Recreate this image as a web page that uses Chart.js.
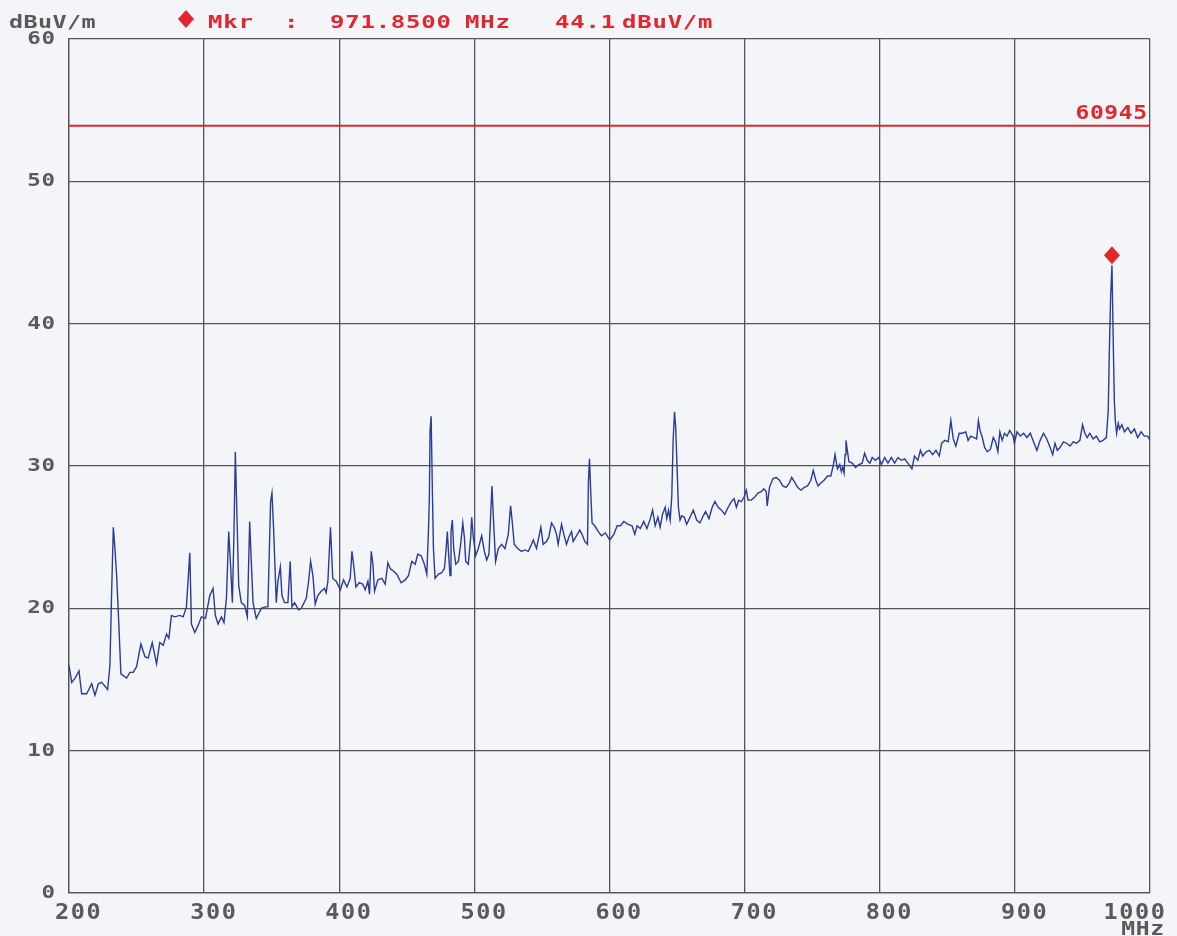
<!DOCTYPE html>
<html>
<head>
<meta charset="utf-8">
<script src="https://cdn.jsdelivr.net/npm/chart.js@4/dist/chart.umd.min.js"></script>
<style>
  html, body { margin: 0; padding: 0; background: #f3f5f9; }
  #wrap { width: 1177px; height: 936px; }
</style>
</head>
<body>
<div id="wrap"><canvas id="c" width="1177" height="936"></canvas></div>
<script>
// ---- data ----
const freqs = [
  200.0,202.0,204.5,207.4,209.4,213.1,216.8,219.2,221.7,224.2,228.6,230.3,231.5,232.8,234.0,235.2,236.5,238.4,
  242.6,245.1,247.5,250.0,253.2,256.2,258.6,261.6,264.8,267.2,269.7,272.2,273.9,275.8,278.3,282.0,284.5,286.9,
  289.4,290.6,293.1,295.5,298.0,301.0,304.2,306.6,308.3,310.3,312.8,314.7,316.5,318.2,319.7,320.9,322.1,323.1,
  324.4,325.6,327.5,330.0,332.0,333.7,334.9,336.2,338.6,342.3,345.3,347.2,349.2,350.2,351.4,353.4,354.6,356.4,
  357.6,359.5,362.0,363.7,365.0,366.9,369.9,371.9,375.6,377.3,378.8,380.5,382.2,384.2,386.6,389.1,390.3,391.6,
  393.5,395.2,397.7,
  400.8,403.2,405.7,408.1,409.4,410.6,412.3,414.8,417.3,419.2,421.2,422.4,423.7,424.9,426.1,428.6,431.5,434.0,
  436.0,437.7,440.2,442.6,445.8,448.8,451.2,453.7,456.2,458.1,460.6,463.0,464.8,466.0,466.7,467.2,468.0,469.0,
  469.7,470.9,473.4,475.8,477.8,478.8,480.0,480.8,482.0,482.7,483.7,484.7,486.2,488.2,490.1,491.4,492.6,493.6,
  495.5,497.3,498.0,499.2,501.0,502.9,505.4,507.4,509.1,510.8,512.3,513.0,514.3,515.7,517.7,520.2,522.6,525.1,
  526.8,528.0,529.5,532.0,534.9,537.4,539.9,542.3,543.6,546.0,547.7,549.2,550.9,553.4,555.1,557.1,559.1,560.8,
  562.0,564.5,566.2,568.2,569.9,571.9,573.1,575.6,578.0,579.7,581.7,583.7,584.4,585.2,586.1,587.1,589.1,591.6,
  594.0,597.0,
  600.2,603.2,605.7,608.1,610.6,613.8,616.7,618.7,620.4,622.8,625.3,627.7,630.2,631.9,633.8,635.8,637.5,639.2,
  641.2,642.4,643.7,644.9,646.1,647.1,648.1,649.0,650.0,651.0,652.2,653.5,655.4,657.1,659.6,662.0,664.5,666.9,
  669.4,671.1,673.6,676.0,678.0,680.4,682.9,685.3,687.8,690.2,692.2,693.9,695.6,697.6,699.5,701.3,702.5,704.9,
  707.4,709.8,712.3,714.2,716.0,716.7,718.4,720.9,723.3,725.8,728.2,730.7,733.1,734.8,736.8,739.2,741.7,744.1,
  746.6,749.0,750.8,752.7,754.4,756.4,758.8,761.3,763.8,765.7,766.9,768.7,770.4,771.6,772.6,773.6,774.3,775.0,
  776.0,777.2,779.7,782.1,784.6,787.0,788.8,790.7,792.7,794.4,796.8,799.3,
  801.2,803.7,806.1,808.6,811.0,813.5,815.9,818.4,820.8,823.8,825.7,828.2,830.1,831.8,834.3,836.7,839.2,841.6,
  844.1,845.8,848.2,850.7,852.6,854.4,856.3,858.8,861.2,863.7,865.4,867.3,869.8,871.7,873.0,874.2,875.9,877.6,
  879.6,882.0,884.0,885.7,887.4,888.9,890.6,892.3,894.2,896.2,898.7,899.6,901.6,904.0,906.5,908.9,911.4,913.8,
  916.3,918.7,921.2,923.6,926.1,928.0,929.7,931.4,933.4,935.9,938.3,940.8,943.2,945.6,948.1,950.1,951.8,953.5,
  955.4,957.9,960.3,962.8,965.2,967.7,969.1,969.9,970.9,971.85,972.8,973.6,974.3,975.3,976.5,977.5,979.2,981.1,
  983.6,986.0,988.5,990.9,993.4,995.8,998.3,1000.0
];
const levels = [
  16.0,14.8,15.1,15.6,14.0,14.0,14.7,13.9,14.7,14.8,14.3,16.0,20.9,25.7,24.2,22.4,19.7,15.4,
  15.1,15.5,15.5,15.9,17.5,16.6,16.5,17.6,16.1,17.6,17.4,18.2,17.9,19.5,19.4,19.5,19.4,20.1,
  23.9,18.9,18.3,18.8,19.4,19.3,20.9,21.4,19.5,18.9,19.4,19.0,20.7,25.4,22.8,20.4,25.4,31.0,
  26.1,21.6,20.4,20.2,19.4,26.1,23.3,20.4,19.3,20.0,20.1,20.1,27.5,28.1,25.6,20.4,21.9,22.9,
  20.9,20.4,20.4,23.3,20.1,20.4,19.9,20.0,20.7,21.9,23.3,22.3,20.3,20.9,21.2,21.4,21.1,21.9,
  25.7,22.1,21.9,
  21.3,22.0,21.5,22.1,24.0,23.1,21.5,21.8,21.7,21.3,21.9,21.0,24.0,23.1,21.2,22.0,22.1,21.7,
  23.2,22.8,22.6,22.4,21.8,22.0,22.3,23.3,23.1,23.8,23.7,23.1,22.4,25.4,27.8,32.5,33.5,27.8,
  24.2,22.1,22.4,22.5,22.8,23.8,25.4,24.0,22.3,25.4,26.2,24.2,23.1,23.3,24.7,26.0,25.0,23.3,
  23.1,25.0,26.4,25.0,23.7,24.2,25.1,24.0,23.4,23.8,27.1,28.6,25.9,23.3,24.2,24.5,24.2,25.2,
  27.2,26.1,24.5,24.2,24.0,24.1,24.0,24.5,24.8,24.2,25.0,25.7,24.5,24.7,25.0,26.0,25.7,25.2,
  24.5,25.9,25.2,24.5,25.0,25.4,24.7,25.1,25.5,25.2,24.7,24.5,28.9,30.5,28.2,26.0,25.8,25.4,
  25.1,25.3,
  24.8,25.2,25.8,25.8,26.1,25.9,25.8,25.2,25.8,25.6,26.1,25.6,26.3,26.9,25.8,26.4,25.7,26.6,
  27.1,26.3,26.9,26.2,27.9,31.8,33.8,32.7,29.9,27.1,26.2,26.5,26.4,25.9,26.4,26.9,26.2,26.0,
  26.5,26.8,26.3,27.1,27.5,27.1,26.9,26.6,27.1,27.5,27.7,27.1,27.6,27.5,27.8,28.3,27.6,27.6,
  27.8,28.1,28.2,28.4,28.2,27.2,28.5,29.1,29.2,29.0,28.6,28.5,28.8,29.2,28.9,28.5,28.3,28.5,
  28.6,29.0,29.7,29.0,28.6,28.8,29.0,29.3,29.3,30.1,30.8,29.8,30.1,29.6,29.9,29.5,30.8,31.8,
  31.1,30.3,30.2,29.9,30.1,30.2,30.9,30.4,30.2,30.6,30.4,30.6,
  30.1,30.6,30.2,30.6,30.2,30.6,30.4,30.5,30.2,29.8,30.7,30.4,31.1,30.7,31.0,31.1,30.8,31.1,
  30.7,31.6,31.8,31.7,33.2,31.9,31.4,32.3,32.3,32.4,31.8,32.1,32.0,31.9,33.2,32.5,32.0,31.3,
  31.0,31.2,32.0,31.7,31.0,32.4,31.8,32.3,32.1,32.5,32.1,31.6,32.4,32.1,32.3,32.0,32.3,31.7,
  31.1,31.8,32.3,31.9,31.3,30.8,31.6,31.1,31.3,31.7,31.6,31.4,31.7,31.6,31.8,32.9,32.3,32.0,
  32.3,31.9,32.1,31.7,31.8,32.0,33.9,38.0,42.0,44.1,38.7,34.6,33.2,32.3,33.0,32.6,32.9,32.4,
  32.7,32.3,32.6,32.0,32.4,32.1,32.1,31.8
];
const limitFreqs = [200, 1000];
const limitLevels = [53.9, 53.9];
const limitName = "60945";
const markerFreq = 971.85;
const markerLevel = 44.1;
const xTickValues = [200, 300, 400, 500, 600, 700, 800, 900, 1000];
const yTickValues = [0, 10, 20, 30, 40, 50, 60];
const yUnit = "dBuV/m";
const xUnit = "MHz";

// ---- helpers ----
const FONT = '"DejaVu Sans Mono", "Liberation Mono", monospace';
function txt(ctx, s, x, y, size, color, align, sx, ls) {
  ctx.save();
  ctx.font = 'bold ' + size + 'px ' + FONT;
  ctx.fillStyle = color;
  ctx.textBaseline = 'alphabetic';
  ctx.textAlign = 'left';
  try { ctx.letterSpacing = (ls || 0) + 'px'; } catch (e) {}
  const w = (ctx.measureText(s).width - (ls || 0)) * sx;
  let x0 = x;
  if (align === 'right') x0 = x - w;
  else if (align === 'center') x0 = x - w / 2;
  ctx.translate(x0, y);
  ctx.scale(sx, 1);
  ctx.fillText(s, 0, 0);
  ctx.restore();
}
function diamond(ctx, cx, cy, hw, hh, color) {
  ctx.save();
  ctx.fillStyle = color;
  ctx.beginPath();
  ctx.moveTo(cx, cy - hh);
  ctx.lineTo(cx + hw, cy);
  ctx.lineTo(cx, cy + hh);
  ctx.lineTo(cx - hw, cy);
  ctx.closePath();
  ctx.fill();
  ctx.restore();
}

const RED = '#e3262d';
const GRAY = '#555555';
const TXTGRAY = '#5a5a5a';

const paperPlugin = {
  id: 'paper',
  beforeDraw(chart) {
    const ctx = chart.ctx;
    ctx.save();
    ctx.fillStyle = '#f3f5f9';
    ctx.fillRect(0, 0, chart.width, chart.height);
    ctx.restore();
  },
  afterDraw(chart) {
    const ctx = chart.ctx;
    const xs = chart.scales.x, ys = chart.scales.y;
    // header
    txt(ctx, yUnit, 9, 28, 18, TXTGRAY, 'left', 1.3, 0.3);
    diamond(ctx, 186, 19, 8, 9, RED);
    txt(ctx, 'Mkr', 208, 28, 18, RED, 'left', 1.33, 0.6);
    txt(ctx, ':', 284, 28, 18, RED, 'left', 1.33, 0);
    txt(ctx, markerFreq.toFixed(4), 330, 28, 18, RED, 'left', 1.33, 0.6);
    txt(ctx, xUnit, 465, 28, 18, RED, 'left', 1.33, 0.6);
    txt(ctx, markerLevel.toFixed(1), 555, 28, 18, RED, 'left', 1.33, 0.6);
    txt(ctx, yUnit, 622, 28, 18, RED, 'left', 1.33, 0.6);
    // y tick labels
    yTickValues.forEach(v => {
      const py = ys.getPixelForValue(v);
      txt(ctx, String(v), 55, py + 5, 18, TXTGRAY, 'right', 1.25, 0.6);
    });
    // x tick labels
    xTickValues.forEach(v => {
      const px = xs.getPixelForValue(v);
      if (v === 1000) txt(ctx, String(v), 1165, 919, 22, TXTGRAY, 'right', 1.07, 1.5);
      else txt(ctx, String(v), px - 14, 919, 22, TXTGRAY, 'left', 1.07, 1.5);
    });
    txt(ctx, xUnit, 1164, 935, 20, TXTGRAY, 'right', 1.15, 0.5);
    // limit label
    const ly = ys.getPixelForValue(limitLevels[1]);
    txt(ctx, limitName, 1147, ly - 7, 20, RED, 'right', 1.15, 0.5);
    // marker diamond
    const mx = xs.getPixelForValue(markerFreq);
    const my = ys.getPixelForValue(markerLevel);
    diamond(ctx, mx, my - 10, 8, 9, RED);
  }
};

const trace = freqs.map((f, i) => ({ x: f, y: levels[i] }));
const limit = limitFreqs.map((f, i) => ({ x: f, y: limitLevels[i] }));

new Chart(document.getElementById('c'), {
  type: 'line',
  data: {
    datasets: [
      { data: limit, borderColor: RED, borderWidth: 2, pointRadius: 0, tension: 0 },
      { data: trace, borderColor: '#2a3b98', borderWidth: 1.4, pointRadius: 0, tension: 0 }
    ]
  },
  options: {
    responsive: false,
    animation: false,
    devicePixelRatio: 1,
    layout: { padding: { left: 69, top: 39, right: 27, bottom: 43 } },
    plugins: { legend: { display: false }, tooltip: { enabled: false } },
    scales: {
      x: {
        type: 'linear', min: 200, max: 1000,
        ticks: { display: false, stepSize: 100 },
        grid: { color: GRAY, lineWidth: 1.3, drawTicks: false },
        border: { display: true, color: GRAY, width: 1.3 },
        afterFit: s => { s.height = 0; }
      },
      y: {
        type: 'linear', min: 0, max: 60,
        ticks: { display: false, stepSize: 10 },
        grid: { color: GRAY, lineWidth: 1.3, drawTicks: false },
        border: { display: true, color: GRAY, width: 1.3 },
        afterFit: s => { s.width = 0; }
      }
    }
  },
  plugins: [paperPlugin]
});
</script>
</body>
</html>
